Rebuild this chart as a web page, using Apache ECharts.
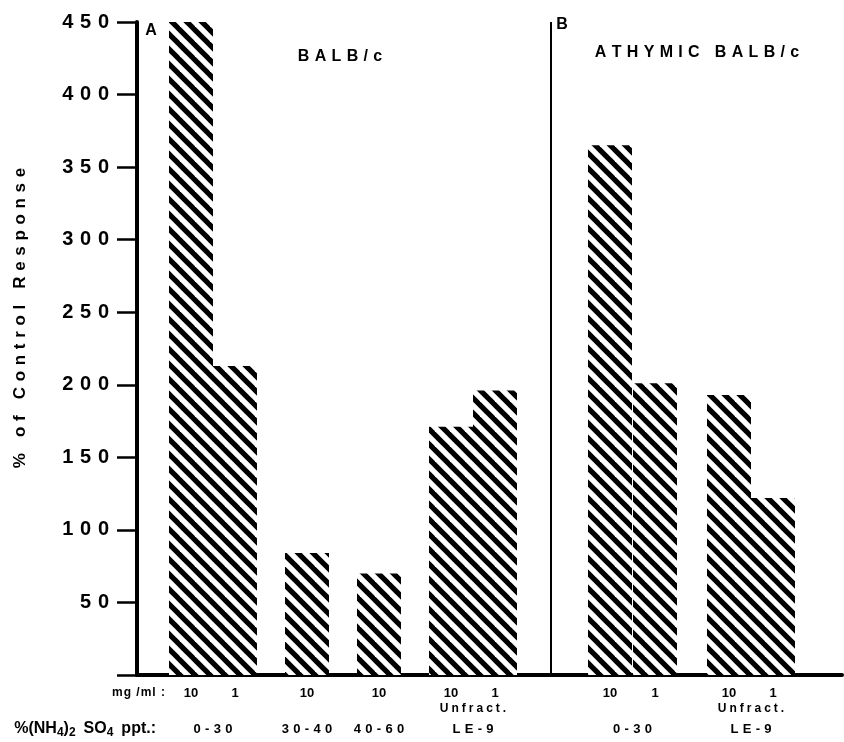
<!DOCTYPE html>
<html>
<head>
<meta charset="utf-8">
<script src="https://cdn.jsdelivr.net/npm/echarts@6/dist/echarts.min.js"></script>
<style>html,body{margin:0;padding:0;background:#fff}#c{width:844px;height:742px}</style>
</head>
<body>
<div id="c"></div>
<script>
// ---- data ----
const panels = ['A','A','A','A','A','A','B','B','B','B'];
const doses = ['10','1','10','10','10','1','10','1','10','1'];
const values = [450, 213, 84, 70, 171, 196, 365, 201, 193, 122];
const groupLabels = ['0-30','30-40','40-60','LE-9','0-30','LE-9'];
const groupSubLabels = ['', '', '', 'Unfract.', '', 'Unfract.'];
const groupMembers = [[0,1],[2],[3],[4,5],[6,7],[8,9]];
const yTicks = [50,100,150,200,250,300,350,400,450];
const panelTitles = ['BALB/c', 'ATHYMIC BALB/c'];
const yTitle = '% of Control Response';
const rowTitle1 = 'mg /ml :';

// ---- layout (positions along the x axis, in axis units) ----
const barCenters = [54, 98, 170, 242, 314, 358, 473, 518, 592, 636];
const dividerX = 414;

function hatch(){
  const c = document.createElement('canvas');
  c.width = 15; c.height = 15;
  const g = c.getContext('2d');
  g.fillStyle = '#fff'; g.fillRect(0,0,15,15);
  g.strokeStyle = '#000'; g.lineWidth = 5.2;
  for (let k=-1;k<=1;k++){ g.beginPath(); g.moveTo(k*15-5,-5); g.lineTo(k*15+20,20); g.stroke(); }
  return c;
}
const sp = (s, sep) => s.split('').join(sep);
const FONT = '"Liberation Sans", Arial, sans-serif';

const chart = echarts.init(document.getElementById('c'));
chart.setOption({
  animation: false,
  backgroundColor: '#fff',
  grid: {left: 137, right: 2, top: 22, bottom: 67, containLabel: false},
  xAxis: {type: 'value', min: 0, max: 705, show: true,
    axisLine: {show: true, onZero: false, lineStyle: {color: '#000', width: 4}},
    axisTick: {show: false}, axisLabel: {show: false}, splitLine: {show: false}},
  yAxis: {type: 'value', min: 0, max: 450, interval: 50,
    axisLine: {show: true, lineStyle: {color: '#000', width: 4}},
    axisTick: {show: true, inside: false, length: 20, lineStyle: {color: '#000', width: 2.5}},
    axisLabel: {color: '#000', fontFamily: FONT, fontWeight: 'bold', fontSize: 20, margin: 28,
      formatter: v => yTicks.includes(v) ? sp(String(v), '\u2004') : ''},
    splitLine: {show: false}},
  series: [{
    type: 'bar',
    barWidth: 44,
    data: values.map((v,i) => [barCenters[i], v]),
    itemStyle: {color: {image: hatch(), repeat: 'repeat'}},
    label: {show: true, position: 'bottom', distance: 12, color: '#000',
      fontFamily: FONT, fontWeight: 'bold', fontSize: 13,
      formatter: p => doses[p.dataIndex]},
    markLine: {silent: true, symbol: 'none', label: {show: false},
      lineStyle: {color: '#000', width: 2, type: 'solid'},
      data: [{xAxis: dividerX}]}
  }]
});

const px = v => chart.convertToPixel({xAxisIndex: 0}, v);
const py = v => chart.convertToPixel({yAxisIndex: 0}, v);
const base = py(0);
const graphics = [];
groupMembers.forEach((m, gi) => {
  const cx = (px(barCenters[m[0]]) + px(barCenters[m[m.length-1]])) / 2;
  if (groupSubLabels[gi]) graphics.push({type:'text', x: cx, y: base + 34,
    style:{text: sp(groupSubLabels[gi], '\u2005'), textAlign:'center', textVerticalAlign:'middle',
      font: 'bold 12px ' + FONT, fill:'#000'}});
  graphics.push({type:'text', x: cx, y: base + 54,
    style:{text: sp(groupLabels[gi], '\u2004'), textAlign:'center', textVerticalAlign:'middle',
      font: 'bold 13px ' + FONT, fill:'#000'}});
});
graphics.push({type:'text', x: 165, y: base + 18, style:{text: sp(rowTitle1, '\u200A'), textAlign:'right', textVerticalAlign:'middle', font:'bold 12px ' + FONT, fill:'#000'}});
graphics.push({type:'text', x: 156, y: base + 54, style:{
  text: '{a|%(NH}{s|4}{a|)}{s|2}{a|\u2002SO}{s|4}{a|\u2002ppt.:}',
  textAlign:'right', textVerticalAlign:'middle', fill:'#000',
  rich: {a: {fontFamily: FONT, fontWeight: 'bold', fontSize: 16, fill: '#000'},
         s: {fontFamily: FONT, fontWeight: 'bold', fontSize: 12, fill: '#000', padding: [8,0,0,0]}}}});
graphics.push({type:'text', x: 20, y: 318, rotation: Math.PI/2,
  style:{text: sp(yTitle, '\u2004'), textAlign:'center', textVerticalAlign:'middle', font:'bold 17px ' + FONT, fill:'#000'}});
graphics.push({type:'text', x: 151, y: 31, style:{text: panels[0], textAlign:'center', textVerticalAlign:'middle', font:'bold 16px ' + FONT, fill:'#000'}});
graphics.push({type:'text', x: 562, y: 25, style:{text: panels[panels.length-1], textAlign:'center', textVerticalAlign:'middle', font:'bold 16px ' + FONT, fill:'#000'}});
graphics.push({type:'text', x: 340, y: 57, style:{text: sp(panelTitles[0], '\u2004'), textAlign:'center', textVerticalAlign:'middle', font:'bold 16px ' + FONT, fill:'#000'}});
graphics.push({type:'text', x: 697, y: 53, style:{text: sp(panelTitles[1], '\u2004'), textAlign:'center', textVerticalAlign:'middle', font:'bold 16px ' + FONT, fill:'#000'}});
chart.setOption({graphic: graphics});
</script>
</body>
</html>
